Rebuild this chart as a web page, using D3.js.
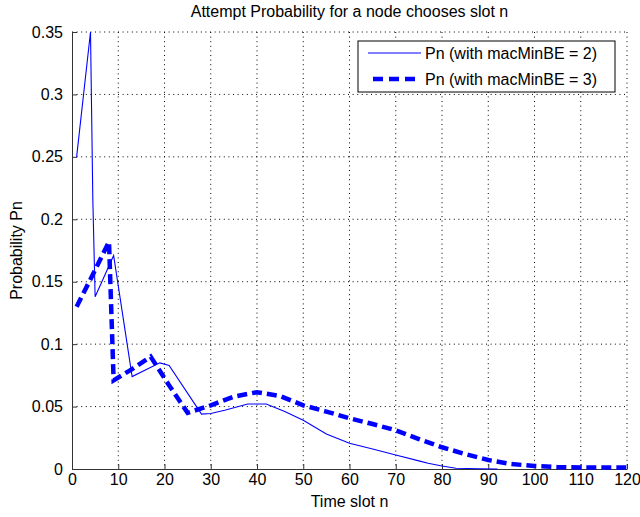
<!DOCTYPE html>
<html>
<head>
<meta charset="utf-8">
<script src="https://cdn.jsdelivr.net/npm/d3@7"></script>
<style>
  body { margin: 0; background: #fff; }
  text { font-family: 'Liberation Sans', Arial, sans-serif; fill: #000; }
</style>
</head>
<body>
<div id="chart"></div>
<script>
// slot n / probability
const slotsBE2 = [1, 4, 4.5, 5, 9, 13, 19, 21, 28, 30, 33, 38, 42, 46, 50, 55, 60, 65, 70, 75, 77, 80, 83, 88, 92];
const probBE2  = [0.25, 0.35, 0.216, 0.138, 0.171, 0.074, 0.085, 0.083, 0.044, 0.0445, 0.047, 0.052, 0.052, 0.046, 0.039, 0.028, 0.0206, 0.016, 0.0112, 0.0065, 0.0046, 0.0024, 0.0006, 0.0002, 0];

const slotsBE3 = [1, 4, 8, 9, 13, 17, 21, 25, 30, 35, 40, 45, 50, 55, 60, 65, 70, 75, 80, 85, 90, 95, 100, 105, 110, 120];
const probBE3  = [0.130, 0.152, 0.182, 0.071, 0.080, 0.090, 0.067, 0.045, 0.051, 0.058, 0.0615, 0.0585, 0.051, 0.046, 0.0406, 0.036, 0.031, 0.024, 0.0174, 0.012, 0.0072, 0.004, 0.0024, 0.0015, 0.0013, 0.0012];

const xTicks = [0, 10, 20, 30, 40, 50, 60, 70, 80, 90, 100, 110, 120];
const yTicks = [0, 0.05, 0.1, 0.15, 0.2, 0.25, 0.3, 0.35];
const seriesNames = ['Pn (with macMinBE = 2)', 'Pn (with macMinBE = 3)'];

const series = [
  {name: seriesNames[0], dashed: false, values: slotsBE2.map((s, i) => [s, probBE2[i]])},
  {name: seriesNames[1], dashed: true,  values: slotsBE3.map((s, i) => [s, probBE3[i]])}
];

const W = 640, H = 517;
const margin = {top: 32, right: 13, bottom: 48, left: 72},
      width = W - margin.left - margin.right,
      height = H - margin.top - margin.bottom;

const root = d3.select('#chart').append('svg')
    .attr('width', W)
    .attr('height', H);

const svg = root.append('g')
    .attr('transform', 'translate(' + margin.left + ',' + margin.top + ')');

const x = d3.scaleLinear().domain([0, 120]).range([0, width]);
const y = d3.scaleLinear().domain([0, 0.35]).range([height, 0]);

// dotted grid
svg.append('g').selectAll('line')
    .data(xTicks.filter(d => d > 0))
    .join('line')
    .attr('x1', d => x(d)).attr('x2', d => x(d))
    .attr('y1', 0).attr('y2', height)
    .attr('stroke', '#000').attr('stroke-width', 1)
    .attr('stroke-dasharray', '1,3.6');

svg.append('g').selectAll('line')
    .data(yTicks.filter(d => d > 0))
    .join('line')
    .attr('x1', 0).attr('x2', width)
    .attr('y1', d => y(d)).attr('y2', d => y(d))
    .attr('stroke', '#000').attr('stroke-width', 1)
    .attr('stroke-dasharray', '1,3.6');

// axes, ticks pointing inward
const xAxis = svg.append('g')
    .attr('transform', 'translate(0,' + height + ')')
    .call(d3.axisBottom(x).tickValues(xTicks).tickFormat(d3.format('d'))
        .tickSizeInner(-5).tickSizeOuter(0).tickPadding(5));

const yAxis = svg.append('g')
    .call(d3.axisLeft(y).tickValues(yTicks).tickFormat(d => d === 0 ? '0' : String(+d.toFixed(2)))
        .tickSizeInner(-5).tickSizeOuter(0).tickPadding(9));

[xAxis, yAxis].forEach(a => {
  a.select('.domain').attr('stroke', '#333');
  a.selectAll('.tick line').attr('stroke', '#333');
  a.selectAll('.tick text').style('font-size', '16px')
      .style('font-family', "'Liberation Sans', Arial, sans-serif").attr('fill', '#000');
});

// lines
const line = d3.line().x(d => x(d[0])).y(d => y(d[1]));

svg.selectAll('.series')
    .data(series)
    .join('path')
    .attr('class', 'series')
    .attr('d', d => line(d.values))
    .attr('fill', 'none')
    .attr('stroke', '#0000ff')
    .attr('stroke-width', d => d.dashed ? 4.5 : 1.1)
    .attr('stroke-linejoin', 'miter')
    .attr('stroke-dasharray', d => d.dashed ? '10,5' : null);

// legend
const legend = svg.append('g')
    .attr('transform', 'translate(' + (358 - margin.left) + ',' + (41 - margin.top) + ')');

legend.append('rect')
    .attr('width', 257).attr('height', 51)
    .attr('fill', '#fff').attr('stroke', '#000').attr('stroke-width', 1);

series.forEach((s, i) => {
  const ly = 12 + i * 26;
  legend.append('line')
      .attr('x1', s.dashed ? 15 : 10).attr('x2', 63)
      .attr('y1', ly).attr('y2', ly)
      .attr('stroke', '#0000ff')
      .attr('stroke-width', s.dashed ? 4.5 : 1.1)
      .attr('stroke-dasharray', s.dashed ? '10,6' : null);
  legend.append('text')
      .attr('x', 67).attr('y', ly + 6)
      .style('font-size', '16px')
      .text(s.name);
});

// title and labels
root.append('text')
    .attr('x', margin.left + width / 2).attr('y', 17)
    .attr('text-anchor', 'middle')
    .style('font-size', '16px')
    .text('Attempt Probability for a node chooses slot n');

root.append('text')
    .attr('x', margin.left + width / 2).attr('y', 507)
    .attr('text-anchor', 'middle')
    .style('font-size', '16px')
    .text('Time slot n');

root.append('text')
    .attr('transform', 'translate(22,' + (margin.top + height / 2) + ') rotate(-90)')
    .attr('text-anchor', 'middle')
    .style('font-size', '16px')
    .text('Probability Pn');
</script>
</body>
</html>
